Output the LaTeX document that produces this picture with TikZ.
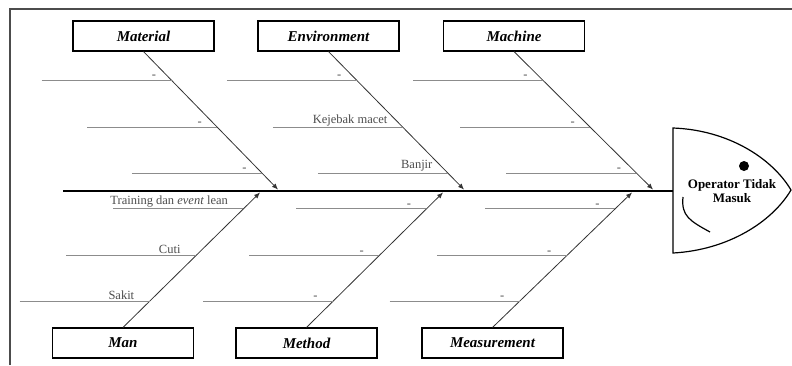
\documentclass[tikz,border=0pt]{standalone}
\usepackage{fontspec}
\setmainfont{Liberation Serif}
\usetikzlibrary{calc,arrows.meta}

\tikzset{
  catbox/.style={draw, line width=1.1pt, minimum width=141pt, minimum height=30pt, inner sep=0pt, font=\fontsize{15}{17}\selectfont\bfseries\itshape},
  bone/.style={line width=0.8pt, black!80, -{Latex[length=6pt,width=5pt]}},
  branch/.style={line width=1pt, black!45},
  cause/.style={font=\fontsize{12.5}{14}\selectfont, text=black!70, inner sep=1pt, anchor=south east, xshift=-14pt},
}

\begin{document}
\begin{tikzpicture}[x=1pt, y=-1pt]
    \useasboundingbox (0,0) rectangle (792,365);

    % Frame
    \draw[black!70, line width=1.2pt] (10,365) -- (10,9) -- (792,9);

    % Category boxes
    \node[catbox] (material) at (143.5,36) {Material};
    \node[catbox] (environment) at (328.5,36) {Environment};
    \node[catbox] (machine) at (514,36) {Machine};
    \node[catbox] (man) at (123,343) {Man};
    \node[catbox] (method) at (306.5,343) {Method};
    \node[catbox] (measurement) at (492.5,343) {Measurement};

    % Spine
    \coordinate (tail) at (63,191);
    \coordinate (neck) at (673,191);
    \draw[line width=1.6pt] (tail) -- (neck);

    % Head
    \draw[line width=1.2pt] (673,128) .. controls (728,130) and (772,158) .. (791,190)
        .. controls (772,222) and (728,250) .. (673,253) -- cycle;
    \fill (744,166) circle (5);
    \draw[line width=1.2pt] (683,197) .. controls (681,216) and (690,221) .. (710,232);
    \node[font=\fontsize{13}{14.5}\selectfont\bfseries, align=center, inner sep=0pt] (effect) at (732,191) {Operator Tidak\\Masuk};

    % Bones
    \coordinate (mA) at (278,189.5);
    \coordinate (eA) at (464,189.5);
    \coordinate (cA) at (653,189.5);
    \coordinate (nA) at (260,192.5);
    \coordinate (tA) at (443,192.5);
    \coordinate (sA) at (632,192.5);
    \draw[bone] (material.south) -- (mA);
    \draw[bone] (environment.south) -- (eA);
    \draw[bone] (machine.south) -- (cA);
    \draw[bone] (man.north) -- (nA);
    \draw[bone] (method.north) -- (tA);
    \draw[bone] (measurement.north) -- (sA);

    % Causes
    \foreach \src/\dst/\t/\txt in {
        material.south/mA/0.209/-, material.south/mA/0.549/-, material.south/mA/0.881/-,
        environment.south/eA/0.209/-, environment.south/eA/0.549/Kejebak macet, environment.south/eA/0.881/Banjir,
        machine.south/cA/0.209/-, machine.south/cA/0.549/-, machine.south/cA/0.881/-,
        man.north/nA/0.195/Sakit, man.north/nA/0.533/Cuti, man.north/nA/0.879/{Training dan \textit{event} lean},
        method.north/tA/0.195/-, method.north/tA/0.533/-, method.north/tA/0.879/-,
        measurement.north/sA/0.195/-, measurement.north/sA/0.533/-, measurement.north/sA/0.879/-}
    {
        \coordinate (b) at ($(\src)!\t!(\dst)$);
        \draw[branch] ($(b)+(-130,0)$) -- (b) node[cause] {\txt};
    }
\end{tikzpicture}
\end{document}
